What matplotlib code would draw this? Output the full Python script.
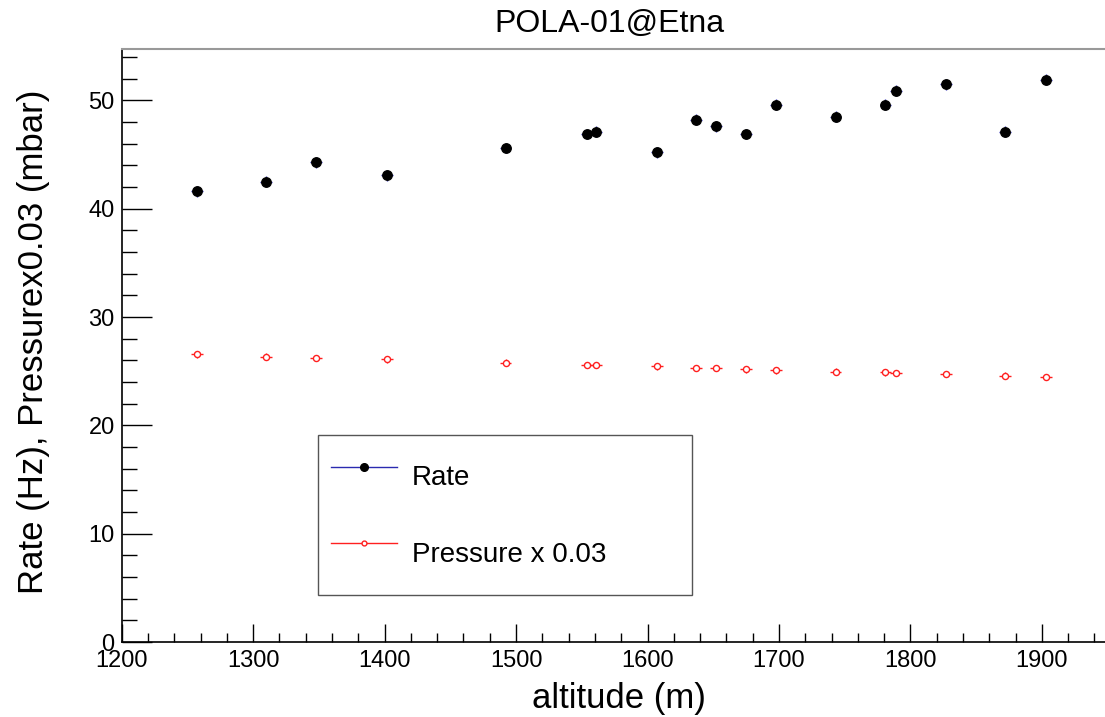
import numpy as np
import matplotlib
matplotlib.use("Agg")
import matplotlib.pyplot as plt
from matplotlib.lines import Line2D
from matplotlib.ticker import MultipleLocator

plt.rcParams["font.family"] = ["Liberation Sans", "DejaVu Sans"]

# altitude (m) of each measurement point
altitude = [1257, 1310, 1348, 1402, 1492, 1554, 1561, 1607, 1637, 1652,
            1675, 1698, 1743, 1781, 1789, 1827, 1872, 1903]
# counting rate (Hz)
rate = [41.6, 42.5, 44.3, 43.1, 45.6, 46.9, 47.1, 45.2, 48.2, 47.6,
        46.9, 49.6, 48.5, 49.6, 50.9, 51.5, 47.1, 51.9]
# atmospheric pressure (mbar), drawn scaled by PRESSURE_SCALE
pressure = [885, 878, 874, 870, 860, 853, 853, 848, 843, 843,
            839, 836, 832, 830, 828, 825, 820, 815]
PRESSURE_SCALE = 0.03
alt_err = 4.5      # m
rate_err = 0.5     # Hz
press_err = 10     # mbar

BLUE = "#2a2ab0"
RED = "#ff2020"

fig = plt.figure(figsize=(11.05, 7.17), dpi=100)
ax = fig.add_axes([0.1101, 0.1046, 0.8899, 0.8264])

p_scaled = np.array(pressure) * PRESSURE_SCALE
ax.errorbar(altitude, rate, xerr=alt_err, yerr=rate_err, fmt="o", ms=6.8,
            mfc="black", mec="black", ecolor=BLUE, elinewidth=1, capsize=0)
ax.errorbar(altitude, p_scaled, xerr=alt_err, yerr=press_err * PRESSURE_SCALE,
            fmt="o", ms=4.4, mfc="white", mec=RED, mew=1, ecolor=RED,
            elinewidth=1, capsize=0)

ax.set_xlim(1200, 1948)
ax.set_ylim(0, 54.7)
ax.xaxis.set_major_locator(MultipleLocator(100))
ax.xaxis.set_minor_locator(MultipleLocator(20))
ax.yaxis.set_major_locator(MultipleLocator(10))
ax.yaxis.set_minor_locator(MultipleLocator(2))
ax.tick_params(axis="x", which="major", direction="in", length=13, width=1,
               labelsize=17, pad=6)
ax.tick_params(axis="x", which="minor", direction="in", length=6.5, width=1)
ax.tick_params(axis="y", which="major", direction="in", length=21.6, width=1,
               labelsize=17, pad=5)
ax.tick_params(axis="y", which="minor", direction="in", length=10.8, width=1)
ax.tick_params(top=False, right=False, which="both")

ax.spines["right"].set_visible(False)
ax.spines["top"].set_color("#999999")
ax.spines["top"].set_linewidth(1.5)
for s in ("left", "bottom"):
    ax.spines[s].set_linewidth(1.2)

ax.set_xlabel("altitude (m)", fontsize=25)
ax.xaxis.set_label_coords(0.506, -0.0675)
ax.set_ylabel("Rate (Hz), Pressurex0.03 (mbar)", fontsize=25)
ax.yaxis.set_label_coords(-0.073, 0.506)

fig.text(609 / 1105, 1 - 32 / 717, "POLA-01@Etna", fontsize=23,
         ha="center", va="baseline")

handles = [
    Line2D([], [], color=BLUE, lw=1, marker="o", ms=5.5, mfc="black", mec="black"),
    Line2D([], [], color=RED, lw=1, marker="o", ms=3.5, mfc="white", mec=RED),
]
leg = ax.legend(handles, ["Rate", "Pressure x 0.03"], fontsize=20,
                loc="upper left", mode="expand",
                bbox_to_anchor=(318 / 1105, 1 - 590 / 717, 374 / 1105, 155 / 717),
                bbox_transform=fig.transFigure, borderaxespad=0,
                borderpad=0.47, handleheight=2.8, labelspacing=0.70,
                handlelength=2.37, handletextpad=0.54, fancybox=False,
                framealpha=1, edgecolor="#555555")
leg.get_frame().set_linewidth(1)

fig.savefig("out.png", dpi=100)
